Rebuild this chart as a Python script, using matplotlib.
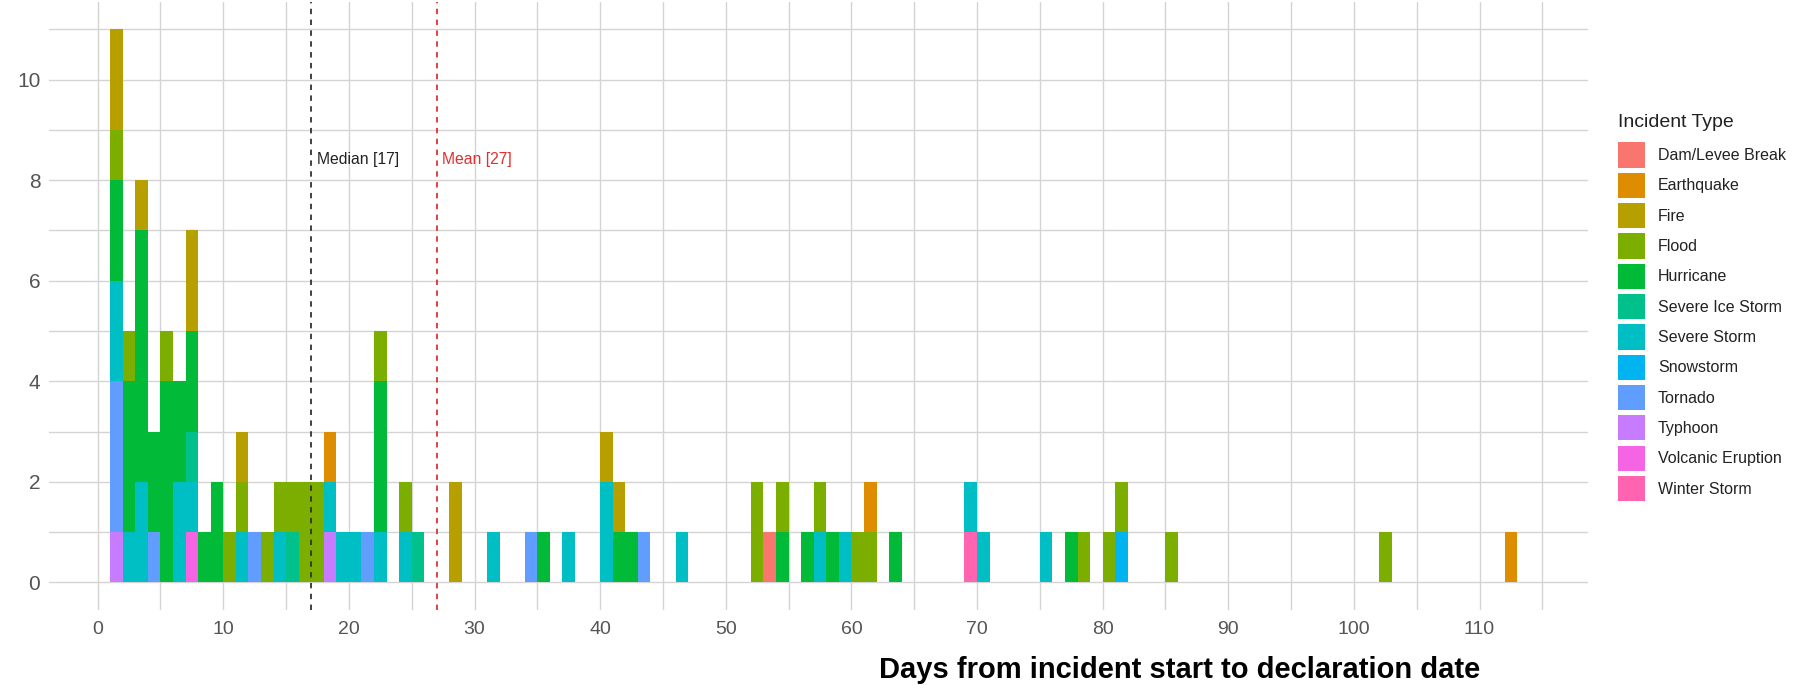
import numpy as np
import matplotlib.pyplot as plt
from matplotlib.patches import Patch

# Incident types in legend order and ggplot hue colours
types = ['Dam/Levee Break', 'Earthquake', 'Fire', 'Flood', 'Hurricane',
         'Severe Ice Storm', 'Severe Storm', 'Snowstorm', 'Tornado',
         'Typhoon', 'Volcanic Eruption', 'Winter Storm']
colors = ['#F8766D', '#DE8C00', '#B79F00', '#7CAE00', '#00BA38', '#00C08B',
          '#00BFC4', '#00B4F0', '#619CFF', '#C77CFF', '#F564E3', '#FF64B0']

# Days from incident start to declaration, one entry per declaration
dam_levee = [53]
earthquake = [18, 61, 112]
fire = [1, 1, 3, 7, 7, 11, 28, 28, 40, 41]
flood = [1, 2, 5, 10, 11, 13, 14, 15, 16, 16, 17, 17, 22, 24, 52, 52, 54,
         57, 60, 61, 78, 80, 81, 85, 102]
hurricane = [1, 1, 2, 2, 2, 3, 3, 3, 3, 3, 4, 4, 5, 5, 5, 5, 6, 6, 7, 7, 8,
             9, 9, 22, 22, 22, 35, 41, 42, 54, 56, 58, 63, 77]
severe_ice_storm = [7, 15, 25]
severe_storm = [1, 1, 2, 3, 3, 6, 6, 7, 11, 14, 18, 19, 20, 22, 24, 31, 37,
                40, 40, 46, 57, 59, 69, 70, 75]
snowstorm = [81]
tornado = [1, 1, 1, 4, 12, 21, 34, 43]
typhoon = [1, 18]
volcanic = [7]
winter_storm = [69]

median_days = 17
mean_days = 27

series = [dam_levee, earthquake, fire, flood, hurricane, severe_ice_storm,
          severe_storm, snowstorm, tornado, typhoon, volcanic, winter_storm]

fig = plt.figure(figsize=(18.02, 6.85), dpi=100)
ax = fig.add_axes([0.027, 0.1095, 0.854, 0.888])

bins = np.arange(0, 116, 1)
# ggplot stacks the first level on top, so draw in reverse order
ax.hist(series[::-1], bins=bins, stacked=True, color=colors[::-1],
        histtype='barstacked', rwidth=1.0, linewidth=0, zorder=2)

ax.set_xlim(-3.9, 118.6)
ax.set_ylim(-0.55, 11.55)
ax.set_xticks(np.arange(0, 111, 10))
ax.set_xticks(np.arange(5, 116, 10), minor=True)
ax.set_yticks(np.arange(0, 11, 2))
ax.set_yticks(np.arange(1, 12, 2), minor=True)
ax.grid(True, which='both', color='#D4D4D4', linewidth=1.0, zorder=0)
ax.set_axisbelow(True)
for s in ax.spines.values():
    s.set_visible(False)
ax.tick_params(which='both', length=0)
ax.tick_params(axis='y', labelsize=15, labelcolor='#555555', pad=6)
ax.tick_params(axis='x', labelsize=14, labelcolor='#555555', pad=8)
for lab in ax.get_xticklabels() + ax.get_yticklabels():
    lab.set_family(['Liberation Sans', 'DejaVu Sans'])

# Median and mean markers
ax.axvline(median_days, color='#333333', linestyle=(0, (3, 3)), linewidth=1.3, zorder=3)
ax.axvline(mean_days, color='#E03030', linestyle=(0, (3, 3)), linewidth=1.3, zorder=3)
ax.text(median_days + 0.45, 8.42, f'Median [{median_days}]', color='#222222',
        fontsize=11.3, va='center', ha='left', family=['Liberation Sans', 'DejaVu Sans'])
ax.text(mean_days + 0.45, 8.42, f'Mean [{mean_days}]', color='#E03030',
        fontsize=11.3, va='center', ha='left', family=['Liberation Sans', 'DejaVu Sans'])

fig.text(1180 / 1802, 1 - 670 / 685, 'Days from incident start to declaration date',
         ha='center', va='center', fontsize=21, fontweight='bold', color='black',
         family=['Liberation Sans', 'DejaVu Sans'])

handles = [Patch(facecolor=c, edgecolor='none') for c in colors]
leg = fig.legend(handles, types, loc='upper left',
                 bbox_to_anchor=(1604 / 1802, 1 - 100 / 685),
                 title='Incident Type', frameon=False, fontsize=11.5,
                 title_fontsize=14, handlelength=1.67, handleheight=2.05,
                 labelspacing=0.32, handletextpad=0.8, alignment='left',
                 prop={'family': ['Liberation Sans', 'DejaVu Sans'], 'size': 11.5})
leg._legend_box.sep = 8  # extra gap between title and keys
leg.get_title().set_family(['Liberation Sans', 'DejaVu Sans'])
leg.get_title().set_color('#222222')
for t in leg.get_texts():
    t.set_color('#222222')

fig.savefig('out.png', dpi=100)
